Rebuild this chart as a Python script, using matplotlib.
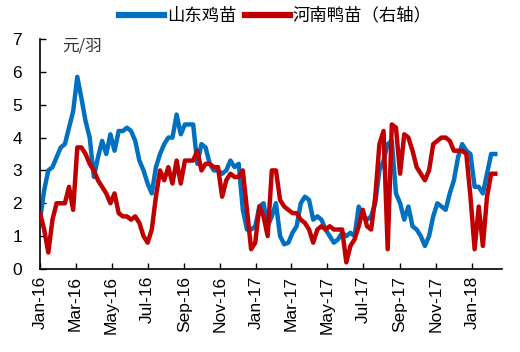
import numpy as np
import pandas as pd
import matplotlib
matplotlib.use("Agg")
import matplotlib.pyplot as plt
import matplotlib.dates as mdates

plt.rcParams['font.family'] = ['Liberation Sans', 'Noto Sans CJK SC', 'DejaVu Sans']

# weekly prices, 2016-01 .. 2018-02
dates = pd.date_range("2016-01-01", periods=111, freq="7D")

chick = [1.5, 2.4, 3.0, 3.1, 3.4, 3.7, 3.8, 4.3, 4.8, 5.85,
         5.2, 4.5, 4.0, 2.8, 3.4, 3.9, 3.5, 4.1, 3.6, 4.2,
         4.2, 4.3, 4.2, 3.9, 3.3, 3.0, 2.6, 2.3, 3.1, 3.5,
         3.8, 4.0, 4.0, 4.7, 4.1, 4.4, 4.4, 4.4, 3.2, 3.8,
         3.7, 3.2, 3.0, 3.0, 2.9, 3.0, 3.3, 3.1, 3.2, 1.8,
         1.2, 1.2, 1.3, 1.9, 2.0, 1.3, 1.6, 2.0, 1.0, 0.75,
         0.8, 1.1, 1.3, 2.0, 2.2, 2.1, 1.5, 1.6, 1.5, 1.2,
         1.0, 0.8, 0.9, 1.1, 1.0, 1.1, 1.0, 1.9, 1.6, 1.5,
         1.6, 2.0, 3.0, 3.3, 3.8, 3.9, 2.3, 2.0, 1.5, 1.9,
         1.3, 1.2, 1.0, 0.7, 1.0, 1.6, 2.0, 1.9, 1.8, 2.3,
         2.7, 3.4, 3.8, 3.6, 3.5, 2.5, 2.5, 2.3, 2.9, 3.5,
         3.5]

duck = [1.7, 1.2, 0.5, 1.5, 2.0, 2.0, 2.0, 2.5, 1.8, 3.7,
        3.7, 3.5, 3.2, 3.0, 2.7, 2.5, 2.3, 2.0, 2.3, 1.7,
        1.6, 1.6, 1.5, 1.6, 1.4, 1.0, 0.8, 1.2, 2.2, 3.0,
        2.7, 3.1, 2.6, 3.3, 2.6, 3.3, 3.3, 3.3, 3.6, 3.0,
        3.2, 3.2, 3.1, 3.1, 2.2, 2.7, 2.9, 2.8, 2.8, 3.0,
        1.8, 0.6, 0.8, 1.9, 1.6, 1.0, 3.0, 3.0, 2.1, 1.9,
        1.8, 1.7, 1.7, 1.5, 1.4, 1.2, 0.8, 1.2, 1.3, 1.2,
        1.3, 1.2, 1.2, 1.2, 0.2, 0.7, 0.9, 1.3, 1.8, 1.3,
        1.2, 2.2, 3.8, 4.2, 0.6, 4.4, 4.3, 2.9, 4.1, 4.0,
        3.6, 3.1, 2.9, 2.7, 3.0, 3.8, 3.9, 4.0, 4.0, 3.9,
        3.6, 3.6, 3.6, 3.5, 2.2, 0.6, 1.9, 0.7, 2.2, 2.9,
        2.9]

blue = "#0070C0"
red = "#C00000"
cjk = ['Noto Sans CJK SC', 'DejaVu Sans']

fig = plt.figure(figsize=(5.2, 3.52), dpi=100)
ax = fig.add_axes([0.077, 0.236, 0.888, 0.653])

l1, = ax.plot(dates, chick, color=blue, lw=3.2, label="山东鸡苗")
ax2 = ax.twinx()
l2, = ax2.plot(dates, duck, color=red, lw=3.2, label="河南鸭苗（右轴）")

for a in (ax, ax2):
    a.set_ylim(0, 7)
    a.set_xlim(pd.Timestamp("2016-01-01"), pd.Timestamp("2018-02-20"))
    a.spines["top"].set_visible(False)
    a.spines["right"].set_visible(False)
ax2.spines["left"].set_visible(False)
ax2.spines["bottom"].set_visible(False)
ax2.set_yticks([])

ax.set_yticks(range(8))
ax.xaxis.set_major_locator(mdates.MonthLocator(bymonth=[1, 3, 5, 7, 9, 11]))
ax.xaxis.set_major_formatter(mdates.DateFormatter("%b-%y"))
ax.tick_params(axis="both", direction="in", length=4, width=1, labelsize=12.5)
ax.tick_params(axis="y", pad=13)
ax.tick_params(axis="x", rotation=90, pad=5)
for s in ("left", "bottom"):
    ax.spines[s].set_linewidth(1.2)

ax.text(0.047, 1.005, "元/羽", transform=ax.transAxes, fontsize=12,
        family=cjk, va="top", ha="left", color="#333333")

fig.legend(handles=[l1, l2], loc="upper center", bbox_to_anchor=(0.53, 1.025),
           ncol=2, frameon=False, handlelength=2.6, columnspacing=0.5,
           handletextpad=0.15, prop={"family": cjk, "size": 12.5})
for h in fig.legends[0].get_lines():
    h.set_linewidth(4.5)

fig.savefig("out.png", dpi=100)
